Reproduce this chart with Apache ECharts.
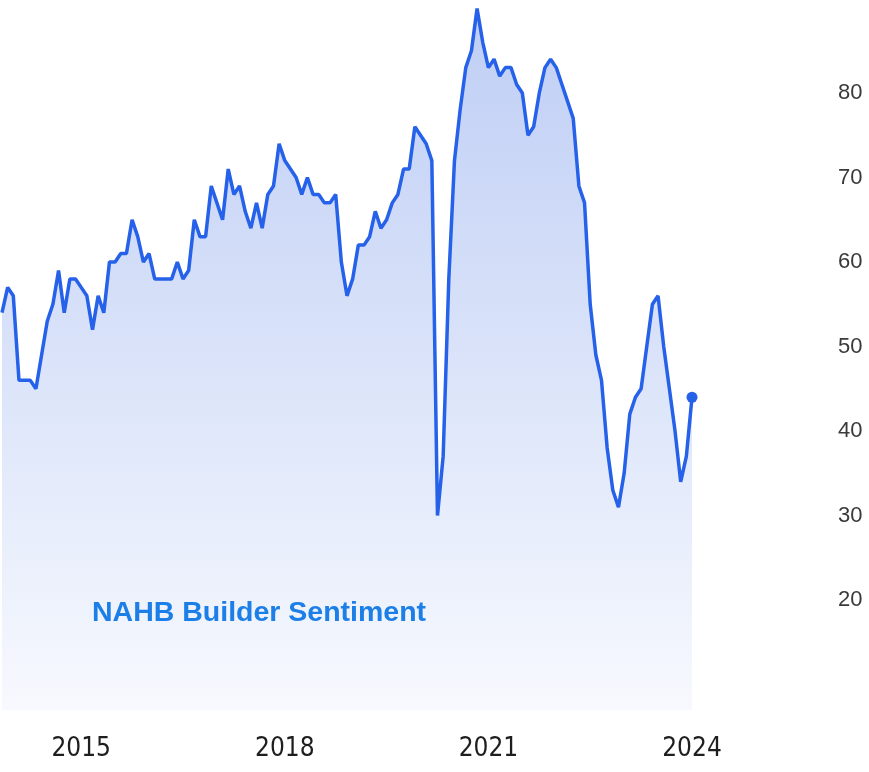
<!DOCTYPE html>
<html>
<head>
<meta charset="utf-8">
<script src="https://cdn.jsdelivr.net/npm/echarts@6/dist/echarts.min.js"></script>
<style>
  html, body { margin: 0; padding: 0; background: #ffffff; }
  #main { width: 869px; height: 772px; }
</style>
</head>
<body>
<div id="main"></div>
<script>
// monthly readings, Nov 2013 .. Jan 2024
var startYear = 2013
var startMonth = 11
var sentiment = [
  54, 57,
  56, 46, 46, 46, 45, 49, 53, 55, 59, 54, 58, 58,
  57, 56, 52, 56, 54, 60, 60, 61, 61, 65, 63, 60,
  61, 58, 58, 58, 58, 60, 58, 59, 65, 63, 63, 69,
  67, 65, 71, 68, 69, 66, 64, 67, 64, 68, 69, 74,
  72, 71, 70, 68, 70, 68, 68, 67, 67, 68, 60, 56,
  58, 62, 62, 63, 66, 64, 65, 67, 68, 71, 71, 76,
  75, 74, 72, 30, 37, 58, 72, 78, 83, 85, 90, 86,
  83, 84, 82, 83, 83, 81, 80, 75, 76, 80, 83, 84,
  83, 81, 79, 77, 69, 67, 55, 49, 46, 38, 33, 31,
  35, 42, 44, 45, 50, 55, 56, 50, 45, 40, 34, 37,
  44
]
var xTickLabels = ['2015', '2018', '2021', '2024']
var yTickLabels = [20, 30, 40, 50, 60, 70, 80]
var seriesName = 'NAHB Builder Sentiment'

var months = []
for (var i = 0; i < sentiment.length; i++) {
  var m = startMonth - 1 + i
  var y = startYear + Math.floor(m / 12)
  var mm = (m % 12) + 1
  months.push(y + '-' + (mm < 10 ? '0' + mm : mm))
}
var last = sentiment.length - 1

var lineColor = '#2661ea'
var chart = echarts.init(document.getElementById('main'))
chart.setOption({
  backgroundColor: '#ffffff',
  animation: false,
  title: {
    text: seriesName,
    left: 92,
    top: 599,
    padding: 0,
    textStyle: {
      color: '#1c7fe8',
      fontSize: 28.5,
      fontWeight: 'bold',
      fontFamily: 'Liberation Sans'
    }
  },
  grid: {
    left: 2,
    right: 177,
    top: 0,
    bottom: 62
  },
  xAxis: {
    type: 'category',
    data: months,
    boundaryGap: false,
    axisLine: {show: false},
    axisTick: {show: false},
    splitLine: {show: false},
    axisLabel: {
      margin: 26,
      color: '#1e1e1e',
      fontSize: 26,
      fontFamily: "'DejaVu Sans Condensed', 'Liberation Sans', sans-serif",
      interval: function (idx, val) {
        return val.slice(5) === '01' && xTickLabels.indexOf(val.slice(0, 4)) >= 0
      },
      formatter: function (val) {
        return val.slice(0, 4)
      }
    }
  },
  yAxis: {
    type: 'value',
    position: 'right',
    min: 7,
    max: 91,
    axisLine: {show: false},
    axisTick: {show: false},
    splitLine: {show: false},
    axisLabel: {
      customValues: yTickLabels,
      align: 'left',
      margin: 146,
      color: '#3a3a3a',
      fontSize: 22,
      fontFamily: "'Liberation Sans', sans-serif"
    }
  },
  series: [
    {
      name: seriesName,
      type: 'line',
      data: sentiment,
      symbol: 'none',
      lineStyle: {color: lineColor, width: 3.5},
      areaStyle: {
        opacity: 1,
        color: new echarts.graphic.LinearGradient(0, 0, 0, 1, [
          {offset: 0, color: '#bfcef5'},
          {offset: 0.5, color: '#dae3f9'},
          {offset: 1, color: '#f7f9fe'}
        ])
      }
    },
    {
      type: 'scatter',
      data: [[months[last], sentiment[last]]],
      symbolSize: 11,
      itemStyle: {color: lineColor, opacity: 1}
    }
  ]
})
</script>
</body>
</html>
